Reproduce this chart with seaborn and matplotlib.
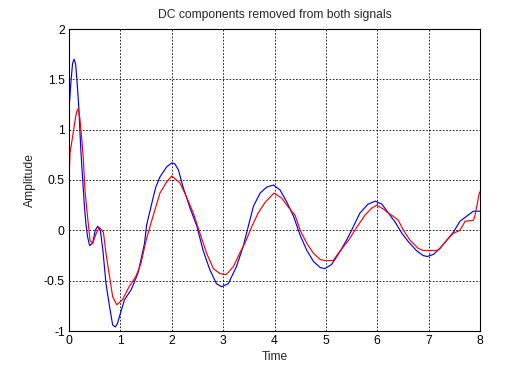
import matplotlib
matplotlib.use("Agg")
import matplotlib.pyplot as plt
import seaborn as sns
import pandas as pd

blue_t = [0, 0.04, 0.07, 0.10, 0.13, 0.16, 0.19, 0.23, 0.26, 0.30, 0.33, 0.36, 0.40, 0.46, 0.51,
          0.56, 0.61, 0.66, 0.72, 0.79, 0.85, 0.90, 0.94, 0.98, 1.08, 1.21, 1.34, 1.38, 1.47, 1.51,
          1.64, 1.69, 1.77, 1.90, 2.0, 2.06, 2.13, 2.22, 2.35, 2.49, 2.61, 2.74, 2.87, 2.97, 3.10,
          3.26, 3.39, 3.49, 3.59, 3.72, 3.85, 3.98, 4.11, 4.24, 4.37, 4.50, 4.63, 4.76, 4.89, 4.98,
          5.11, 5.24, 5.40, 5.50, 5.66, 5.82, 5.96, 6.09, 6.22, 6.35, 6.48, 6.60, 6.76, 6.89, 6.97,
          7.09, 7.22, 7.35, 7.48, 7.61, 7.74, 7.87, 8.0]
blue_y = [1.20, 1.49, 1.66, 1.70, 1.65, 1.45, 1.23, 0.80, 0.55, 0.24, 0.06, -0.06, -0.15, -0.13, 0.0,
          0.04, 0.0, -0.20, -0.53, -0.76, -0.94, -0.96, -0.93, -0.86, -0.69, -0.59, -0.43, -0.34, -0.13, 0.05,
          0.33, 0.43, 0.53, 0.63, 0.67, 0.66, 0.60, 0.43, 0.23, 0.04, -0.20, -0.39, -0.53, -0.56, -0.53,
          -0.36, -0.16, 0.04, 0.24, 0.37, 0.43, 0.45, 0.40, 0.28, 0.14, -0.05, -0.20, -0.31, -0.37, -0.38,
          -0.34, -0.24, -0.10, 0.0, 0.17, 0.26, 0.29, 0.26, 0.17, 0.08, -0.03, -0.11, -0.20, -0.25, -0.26,
          -0.24, -0.18, -0.10, -0.02, 0.09, 0.14, 0.19, 0.19]

red_t = [0, 0.02, 0.07, 0.12, 0.15, 0.18, 0.21, 0.25, 0.28, 0.31, 0.36, 0.41, 0.46, 0.53, 0.59,
         0.67, 0.72, 0.79, 0.85, 0.93, 1.04, 1.17, 1.30, 1.40, 1.50, 1.60, 1.70, 1.77, 1.90, 2.0,
         2.16, 2.29, 2.42, 2.55, 2.68, 2.81, 2.94, 3.06, 3.20, 3.33, 3.43, 3.52, 3.56, 3.68, 3.82,
         3.99, 4.14, 4.27, 4.40, 4.50, 4.63, 4.76, 4.89, 4.98, 5.14, 5.27, 5.44, 5.60, 5.76, 5.89,
         5.99, 6.12, 6.22, 6.31, 6.41, 6.51, 6.64, 6.80, 6.89, 7.16, 7.22, 7.35, 7.48, 7.61, 7.71,
         7.87, 7.90, 7.99, 8.0]
red_y = [0.50, 0.77, 0.93, 1.10, 1.18, 1.21, 1.12, 0.90, 0.70, 0.40, 0.14, -0.10, -0.13, -0.03, 0.03,
         -0.02, -0.23, -0.46, -0.66, -0.74, -0.69, -0.56, -0.46, -0.33, -0.10, 0.08, 0.25, 0.37, 0.48, 0.54,
         0.47, 0.33, 0.17, -0.03, -0.23, -0.38, -0.43, -0.44, -0.36, -0.22, -0.12, -0.01, 0.04, 0.17, 0.28,
         0.37, 0.32, 0.23, 0.15, 0.0, -0.13, -0.23, -0.29, -0.30, -0.30, -0.21, -0.10, 0.03, 0.15, 0.22,
         0.25, 0.21, 0.17, 0.14, 0.10, 0.0, -0.10, -0.18, -0.20, -0.20, -0.18, -0.10, -0.03, 0.0, 0.09,
         0.10, 0.14, 0.38, 0.38]

x_ticks = [0, 1, 2, 3, 4, 5, 6, 7, 8]
y_ticks = [-1, -0.5, 0, 0.5, 1, 1.5, 2]
y_tick_labels = ["-1", "-0.5", "0", "0.5", "1", "1.5", "2"]

sns.set_style("white")
plt.rcParams['font.family'] = ['Liberation Sans', 'DejaVu Sans']

fig = plt.figure(figsize=(5.29, 3.72), dpi=100)
ax = fig.add_axes([69/529, 41/372, 411/529, 302/372])

df_b = pd.DataFrame({"t": blue_t, "y": blue_y})
df_r = pd.DataFrame({"t": red_t, "y": red_y})
sns.lineplot(data=df_b, x="t", y="y", ax=ax, color="#0000ff", linewidth=0.85, sort=False, estimator=None)
sns.lineplot(data=df_r, x="t", y="y", ax=ax, color="#ff0000", linewidth=0.85, sort=False, estimator=None)

ax.set_xlim(0, 8)
ax.set_ylim(-1, 2)
ax.set_xticks(x_ticks)
ax.set_xticklabels([str(v) for v in x_ticks])
ax.set_yticks(y_ticks)
ax.set_yticklabels(y_tick_labels)
ax.grid(True, color="black", linestyle=(0, (2, 2)), linewidth=0.6)
ax.set_axisbelow(True)
for s in ax.spines.values():
    s.set_color("black")
    s.set_linewidth(0.8)
ax.tick_params(axis="both", direction="in", length=3, labelsize=8.7, colors="black", pad=3)
ax.set_title("DC components removed from both signals", fontsize=8.7, pad=8)
ax.set_xlabel("Time", fontsize=8.7, labelpad=3)
ax.set_ylabel("Amplitude", fontsize=8.7, labelpad=6)

fig.savefig("out.png", dpi=100)
